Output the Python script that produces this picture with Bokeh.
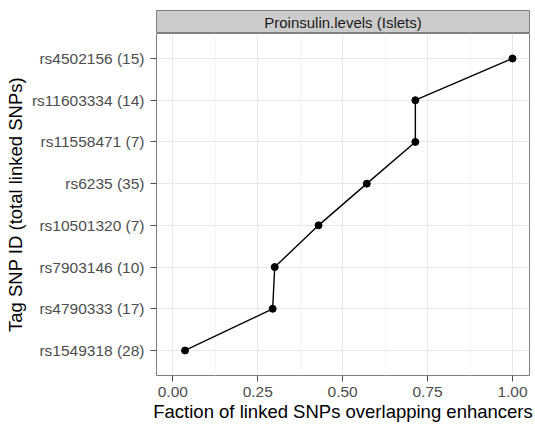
from bokeh.plotting import figure
from bokeh.layouts import column
from bokeh.models import Range1d, FixedTicker, PrintfTickFormatter, ColumnDataSource
from bokeh.core.properties import value
from bokeh.embed import file_html
from bokeh.resources import INLINE

# ---- data (bottom to top) ----
snp_labels = ["rs1549318 (28)", "rs4790333 (17)", "rs7903146 (10)", "rs10501320 (7)",
              "rs6235 (35)", "rs11558471 (7)", "rs11603334 (14)", "rs4502156 (15)"]
fraction = [0.036, 0.294, 0.300, 0.429, 0.571, 0.714, 0.714, 1.000]
x_ticks = [0.0, 0.25, 0.5, 0.75, 1.0]
x_minor = [0.125, 0.375, 0.625, 0.875]
strip_title = "Proinsulin.levels (Islets)"
x_title = "Faction of linked SNPs overlapping enhancers"
y_title = "Tag SNP ID (total linked SNPs)"

FONT = "Liberation Sans"
W = 535
XMIN, XMAX = -0.048, 1.05
pos = list(range(1, len(snp_labels) + 1))

# ---- facet strip ----
strip = figure(width=W, height=33, x_range=Range1d(XMIN, XMAX), y_range=Range1d(0, 1),
               min_border_top=10, min_border_bottom=0, min_border_left=156, min_border_right=6,
               toolbar_location=None, output_backend="svg")
strip.axis.visible = False
strip.grid.visible = False
strip.background_fill_color = "#cccccc"
strip.outline_line_color = "#7f7f7f"
strip.outline_line_width = 1
strip.border_fill_color = "white"
strip.text(x=[(XMIN + XMAX) / 2], y=[0.5], text=[strip_title], text_align="center",
           text_baseline="middle", text_font=value(FONT), text_font_size="15px",
           text_color="#1a1a1a")

# ---- main panel ----
p = figure(width=W, height=391, x_range=Range1d(XMIN, XMAX), y_range=Range1d(0.4, len(snp_labels) + 0.6),
           min_border_top=0, min_border_bottom=49, min_border_left=156, min_border_right=6,
           toolbar_location=None, output_backend="svg")
p.background_fill_color = "white"
p.border_fill_color = "white"
p.outline_line_color = "#7f7f7f"
p.outline_line_width = 1

src = ColumnDataSource(dict(x=fraction, y=pos))
p.line("x", "y", source=src, line_color="black", line_width=1.4)
p.scatter("x", "y", source=src, size=7, fill_color="black", line_color="black")

# axes
p.xaxis.ticker = FixedTicker(ticks=x_ticks, minor_ticks=x_minor)
p.xaxis.formatter = PrintfTickFormatter(format="%.2f")
p.yaxis.ticker = FixedTicker(ticks=pos)
p.yaxis.major_label_overrides = {i: lab for i, lab in zip(pos, snp_labels)}
p.xaxis.axis_label = x_title
p.yaxis.axis_label = y_title

for ax in (p.xaxis, p.yaxis):
    ax.axis_line_color = None
    ax.minor_tick_line_color = None
    ax.major_tick_line_color = "#4d4d4d"
    ax.major_tick_in = 0
    ax.major_tick_out = 6
    ax.major_label_text_font = FONT
    ax.major_label_text_font_size = "15.5px"
    ax.major_label_text_color = "#4d4d4d"
    ax.axis_label_text_font = FONT
    ax.axis_label_text_font_size = "18.5px"
    ax.axis_label_text_font_style = "normal"
    ax.axis_label_text_color = "black"
p.xaxis.major_label_standoff = 5
p.xaxis.axis_label_standoff = 1
p.yaxis.major_label_standoff = 6
p.yaxis.axis_label_standoff = 3

# grid
p.xgrid.ticker = FixedTicker(ticks=x_ticks, minor_ticks=x_minor)
p.ygrid.ticker = FixedTicker(ticks=pos)
p.xgrid.grid_line_color = "#e8e8e8"
p.ygrid.grid_line_color = "#e8e8e8"
p.xgrid.minor_grid_line_color = "#f5f5f5"
p.xgrid.grid_line_width = 1
p.ygrid.grid_line_width = 1

layout = column(strip, p, spacing=0)
open("out.html", "w").write(file_html(layout, INLINE))
